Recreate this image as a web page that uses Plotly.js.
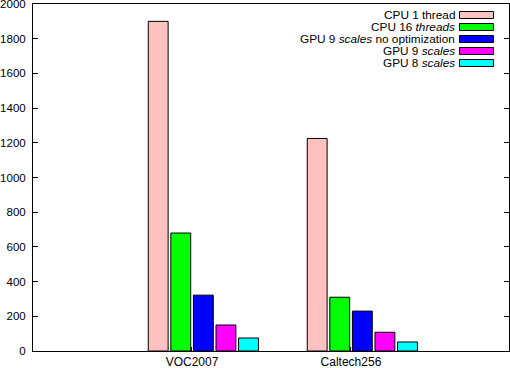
<!DOCTYPE html>
<html>
<head>
<meta charset="utf-8">
<script src="https://cdn.plot.ly/plotly-3.0.1.min.js"></script>
<style>
  body { margin: 0; background: #fff; }
  #chart { width: 510px; height: 368px; }
</style>
</head>
<body>
<div id="chart"></div>
<script>
// datasets no eixo x
const datasets = ["VOC2007", "Caltech256"];

// séries (tempo por configuração)
const seriesNames = [
    "CPU 1 thread",
    "CPU 16 <i>threads</i>",
    "GPU 9 <i>scales</i> no optimization",
    "GPU 9 <i>scales</i>",
    "GPU 8 <i>scales</i>"
];
const cpu1 = [1900, 1225];
const cpu16 = [680, 310];
const gpu9NoOpt = [322, 230];
const gpu9 = [150, 108];
const gpu8 = [75, 52];
const seriesValues = [cpu1, cpu16, gpu9NoOpt, gpu9, gpu8];

const cores = ["#ffc0c0", "#00ff00", "#0000ff", "#ff00ff", "#00ffff"];

const fonte = { family: "Liberation Sans, Arial, sans-serif", size: 12, color: "#000" };
const fonteLeg = { family: "Liberation Sans, Arial, sans-serif", size: 11.8, color: "#000" };
const fonteY = { family: "Liberation Sans, Arial, sans-serif", size: 11.5, color: "#000" };

// histograma estilo gnuplot: barras deslocadas em relação ao tick
const passo = 0.142, largura = 0.125, inicio = -0.275;
const traces = seriesNames.map((nome, i) => ({
    x: datasets,
    y: seriesValues[i],
    type: "bar",
    name: nome,
    offset: inicio + passo * i,
    width: largura,
    marker: { color: cores[i], line: { color: "#000", width: 1 } },
    hoverinfo: "y"
}));

// legenda estilo gnuplot: texto alinhado à direita, amostra à direita
const plotH = 347, plotW = 476, esq = 33, base = 351;
const annotations = [];
const shapes = [];
seriesNames.forEach((nome, i) => {
    const py = 15 + 12 * i;
    const yp = (base - py) / plotH;
    annotations.push({
        xref: "paper", yref: "paper",
        x: (456 - esq) / plotW, y: yp,
        xanchor: "right", yanchor: "middle",
        borderpad: 0,
        text: nome, showarrow: false, font: fonteLeg
    });
    shapes.push({
        type: "rect", xref: "paper", yref: "paper",
        x0: (459.5 - esq) / plotW, x1: (493.5 - esq) / plotW,
        y0: yp - 3.5 / plotH, y1: yp + 3.5 / plotH,
        fillcolor: cores[i], line: { color: "#000", width: 1 }
    });
});

const layout = {
    width: 510, height: 368,
    margin: { l: esq, r: 510 - esq - plotW, t: 368 - 17 - plotH, b: 17 },
    paper_bgcolor: "#fff", plot_bgcolor: "#fff",
    font: fonte,
    showlegend: false,
    barmode: "overlay",
    xaxis: {
        type: "category",
        range: [-1, 1.994],
        showline: true, linecolor: "#000", linewidth: 1, mirror: true,
        ticks: "inside", ticklen: 4, tickcolor: "#000",
        showgrid: false, zeroline: false,
        tickfont: fonte
    },
    yaxis: {
        range: [0, 2000], dtick: 200,
        showline: true, linecolor: "#000", linewidth: 1, mirror: "ticks",
        ticks: "inside", ticklen: 5, tickcolor: "#000",
        showgrid: false, zeroline: false,
        tickfont: fonteY, ticklabelstandoff: 4,
        ticklabeloverflow: "allow"
    },
    annotations: annotations,
    shapes: shapes
};

Plotly.newPlot("chart", traces, layout, { staticPlot: true });
</script>
</body>
</html>
